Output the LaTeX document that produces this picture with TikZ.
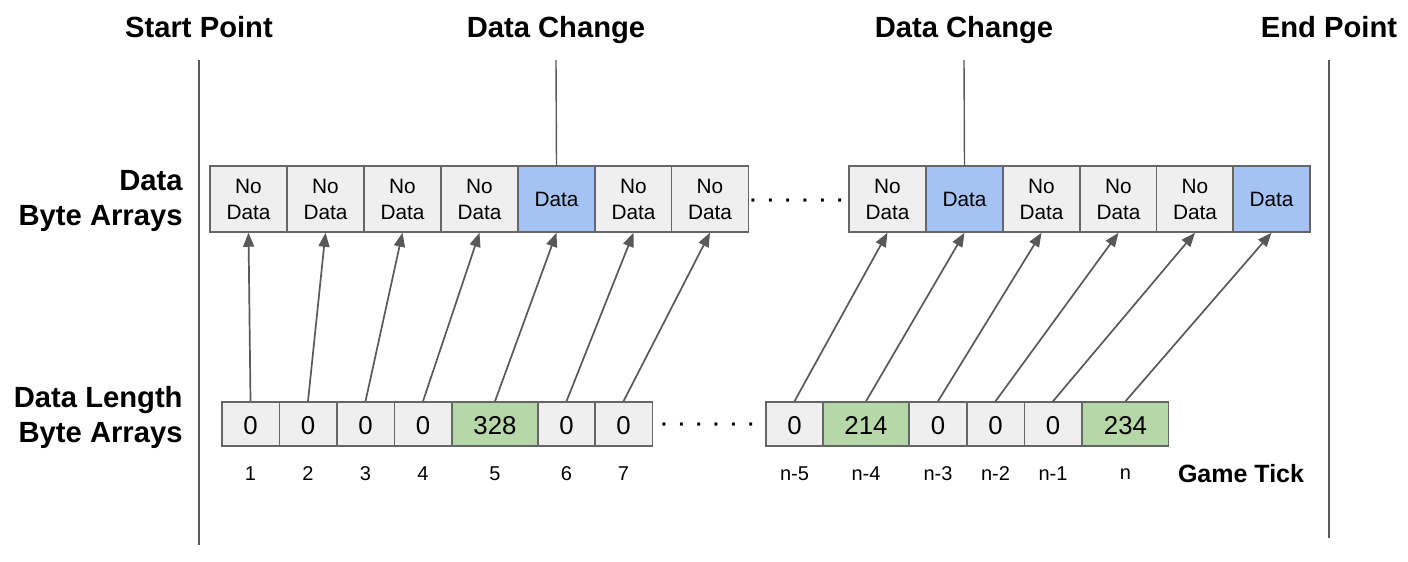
\documentclass[tikz,border=0pt]{standalone}
\usepackage{fontspec}
\setmainfont{Liberation Sans}
\usetikzlibrary{arrows.meta,positioning}
\definecolor{cellgray}{HTML}{EFEFEF}
\definecolor{cellblue}{HTML}{A4C2F4}
\definecolor{cellgreen}{HTML}{B6D7A8}
\definecolor{edgegray}{HTML}{666666}
\definecolor{arrowgray}{HTML}{595959}
\newcommand{\dotsep}{\hspace{5.2pt}}

\begin{document}
\begin{tikzpicture}[x=0.5pt, y=-0.5pt,
    cell/.style={draw=edgegray, line width=0.75pt, fill=cellgray, minimum width=38.5pt, minimum height=33pt, inner sep=0pt, align=center, font=\fontsize{10.4}{13}\selectfont},
    datacell/.style={cell, fill=cellblue},
    len/.style={draw=edgegray, line width=0.75pt, fill=cellgray, minimum width=28.75pt, minimum height=22pt, inner sep=0pt, text height=10.2pt, text depth=0pt, font=\fontsize{12.9}{14}\selectfont},
    lenwide/.style={len, fill=cellgreen, minimum width=43pt},
    tick/.style={font=\fontsize{10}{12}\selectfont, inner sep=0pt},
    heading/.style={font=\fontsize{14.6}{17.5}\selectfont\bfseries, align=right, inner sep=0pt},
    dotrow/.style={font=\fontsize{10.4}{12}\selectfont\bfseries, inner sep=0pt},
    arr/.style={-{Triangle[length=7pt,width=5.5pt]}, draw=arrowgray, line width=0.85pt},
    marker/.style={draw=arrowgray, line width=0.7pt}
]
\useasboundingbox (0,0) rectangle (1408,562);

% titles and markers
\node[heading, anchor=base] (start) at (199,37) {Start Point};
\node[heading, anchor=base] (chg1) at (556,37) {Data Change};
\node[heading, anchor=base] (chg2) at (964,37) {Data Change};
\node[heading, anchor=base] (finish) at (1329,37) {End Point};
\coordinate (starttop) at (199,60);
\coordinate (startbot) at (199,545);
\coordinate (endtop) at (1329,60);
\coordinate (endbot) at (1329,538);
\coordinate (chg1top) at (556,60);
\coordinate (chg2top) at (964,60);

\node[heading, anchor=east] (bytelbl) at (183,201) {Data\\Byte Arrays};
\node[heading, anchor=east] (lenlbl) at (183,417) {Data Length\\Byte Arrays};

% data byte arrays
\node[cell] (b1) at (248.5,199) {No\\Data};
\node[cell] (b2) at (325.5,199) {No\\Data};
\node[cell] (b3) at (402.5,199) {No\\Data};
\node[cell] (b4) at (479.5,199) {No\\Data};
\node[datacell] (b5) at (556.5,199) {Data};
\node[cell] (b6) at (633.5,199) {No\\Data};
\node[cell] (b7) at (710,199) {No\\Data};
\node[dotrow] (bgap) at (797,203) {·\dotsep·\dotsep·\dotsep·\dotsep·\dotsep·};
\node[cell] (bn5) at (887.5,199) {No\\Data};
\node[datacell] (bn4) at (964.5,199) {Data};
\node[cell] (bn3) at (1041.5,199) {No\\Data};
\node[cell] (bn2) at (1118.5,199) {No\\Data};
\node[cell] (bn1) at (1195,199) {No\\Data};
\node[datacell] (bn) at (1271.5,199) {Data};

% data length byte arrays
\node[len] (l1) at (250.5,424) {0};
\node[len] (l2) at (308,424) {0};
\node[len] (l3) at (365.5,424) {0};
\node[len] (l4) at (423,424) {0};
\node[lenwide] (l5) at (495,424) {328};
\node[len] (l6) at (566.5,424) {0};
\node[len] (l7) at (623.5,424) {0};
\node[dotrow] (lgap) at (708,427) {·\dotsep·\dotsep·\dotsep·\dotsep·\dotsep·};
\node[len] (ln5) at (794.5,424) {0};
\node[lenwide] (ln4) at (866,424) {214};
\node[len] (ln3) at (938,424) {0};
\node[len] (ln2) at (995.5,424) {0};
\node[len] (ln1) at (1053,424) {0};
\node[lenwide] (ln) at (1125.5,424) {234};

% game ticks
\node[tick] (t1) at (250.5,474) {1};
\node[tick] (t2) at (308,474) {2};
\node[tick] (t3) at (365.5,474) {3};
\node[tick] (t4) at (423,474) {4};
\node[tick] (t5) at (495,474) {5};
\node[tick] (t6) at (566.5,474) {6};
\node[tick] (t7) at (623.5,474) {7};
\node[tick] (tn5) at (794.5,474) {n-5};
\node[tick] (tn4) at (866,474) {n-4};
\node[tick] (tn3) at (938,474) {n-3};
\node[tick] (tn2) at (995.5,474) {n-2};
\node[tick] (tn1) at (1053,474) {n-1};
\node[tick] (tn) at (1125.5,474) {n};
\node[heading, font=\fontsize{12.5}{14}\selectfont\bfseries] (ticklbl) at (1241,474) {Game Tick};

% markers
\draw[marker] (starttop) -- (startbot);
\draw[marker] (endtop) -- (endbot);
\draw[marker] (chg1top) -- (b5.north);
\draw[marker] (chg2top) -- (bn4.north);

% pointers
\draw[arr] (l1.north) -- (b1.south);
\draw[arr] (l2.north) -- (b2.south);
\draw[arr] (l3.north) -- (b3.south);
\draw[arr] (l4.north) -- (b4.south);
\draw[arr] (l5.north) -- (b5.south);
\draw[arr] (l6.north) -- (b6.south);
\draw[arr] (l7.north) -- (b7.south);
\draw[arr] (ln5.north) -- (bn5.south);
\draw[arr] (ln4.north) -- (bn4.south);
\draw[arr] (ln3.north) -- (bn3.south);
\draw[arr] (ln2.north) -- (bn2.south);
\draw[arr] (ln1.north) -- (bn1.south);
\draw[arr] (ln.north) -- (bn.south);
\end{tikzpicture}
\end{document}
